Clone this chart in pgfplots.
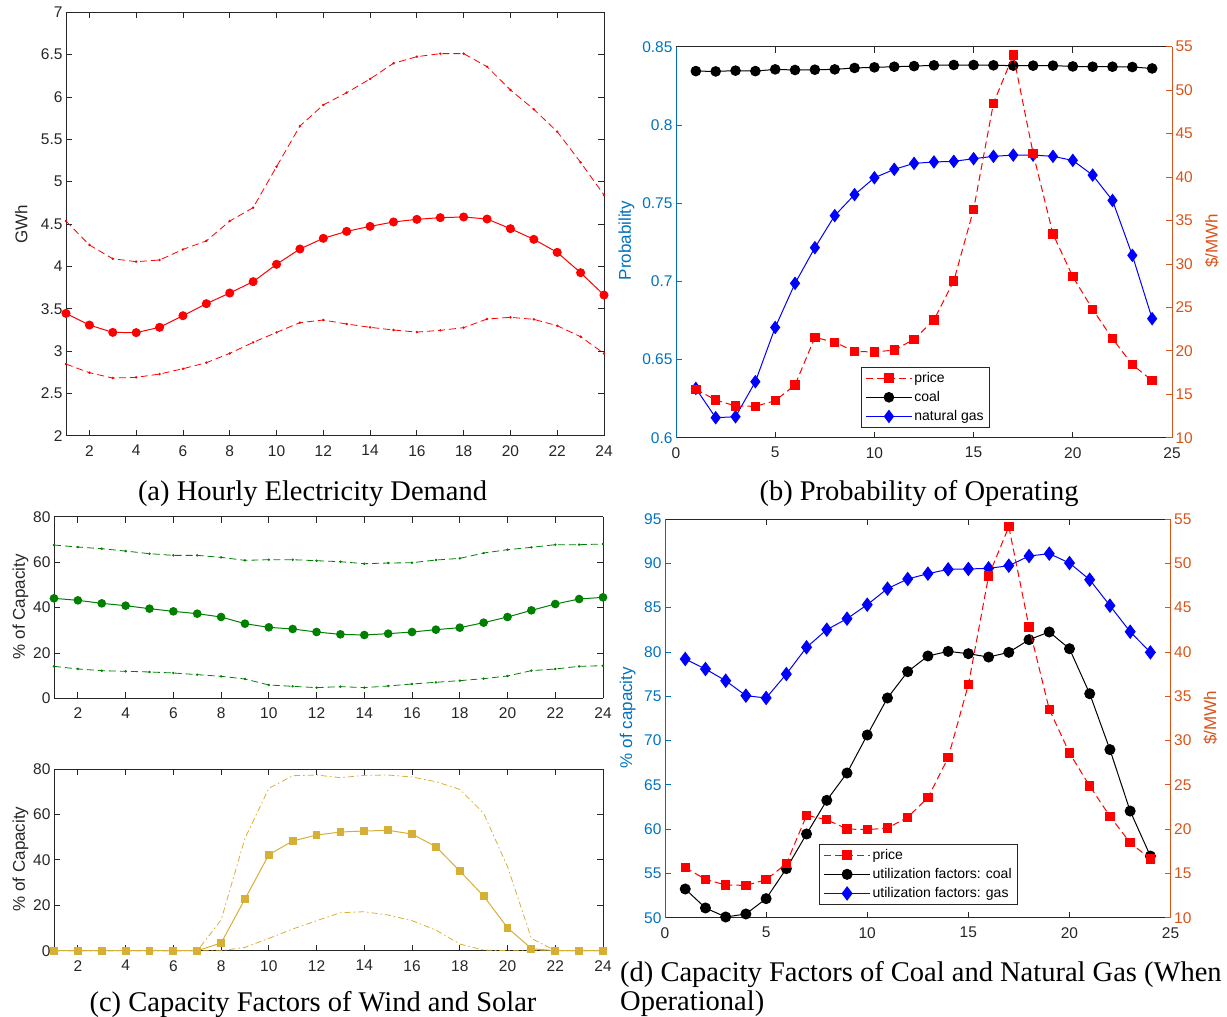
\documentclass[border=0pt]{standalone}
\usepackage{pgfplots}
\pgfplotsset{compat=1.18}
\usepackage{pgfplotstable}
\usepackage{fontspec}
\setmainfont{Liberation Sans}
\newfontfamily\capfont{Liberation Serif}
\definecolor{axgray}{rgb}{0.15,0.15,0.15}
\definecolor{mblue}{rgb}{0,0.447,0.741}
\definecolor{morange}{rgb}{0.85,0.325,0.098}
\definecolor{wgreen}{rgb}{0,0.5,0}
\definecolor{sgold}{RGB}{214,175,55}

\pgfplotstableread{
x mean up lo
1 3.445 4.535 2.846
2 3.307 4.252 2.744
3 3.220 4.090 2.681
4 3.217 4.055 2.689
5 3.280 4.075 2.728
6 3.417 4.200 2.791
7 3.559 4.300 2.862
8 3.685 4.535 2.972
9 3.819 4.693 3.102
10 4.024 5.177 3.220
11 4.205 5.657 3.335
12 4.331 5.906 3.366
13 4.413 6.051 3.319
14 4.472 6.213 3.280
15 4.524 6.398 3.248
16 4.555 6.476 3.224
17 4.575 6.512 3.244
18 4.583 6.512 3.276
19 4.559 6.358 3.378
20 4.445 6.083 3.398
21 4.319 5.854 3.374
22 4.165 5.591 3.299
23 3.925 5.228 3.169
24 3.661 4.843 2.972
}\demand

\pgfplotstableread{
x coal gas price
1 0.8344 0.6315 15.57
2 0.8342 0.6128 14.34
3 0.8347 0.6134 13.65
4 0.8344 0.6358 13.61
5 0.8355 0.6705 14.26
6 0.8351 0.6987 16.07
7 0.8353 0.7215 21.55
8 0.8355 0.7420 20.98
9 0.8364 0.7554 19.94
10 0.8368 0.7662 19.86
11 0.8372 0.7716 20.09
12 0.8376 0.7754 21.32
13 0.8381 0.7763 23.55
14 0.8383 0.7767 28.03
15 0.8383 0.7784 36.28
16 0.8381 0.7799 48.48
17 0.8379 0.7807 54.04
18 0.8379 0.7807 42.73
19 0.8379 0.7799 33.44
20 0.8374 0.7773 28.53
21 0.8372 0.7679 24.77
22 0.8372 0.7517 21.40
23 0.8370 0.7166 18.41
24 0.8361 0.6761 16.57
}\prob

\pgfplotstableread{
x mean up lo
1 44.04 67.52 14.09
2 43.16 66.64 12.92
3 41.83 65.90 12.18
4 40.81 64.88 11.89
5 39.49 63.71 11.60
6 38.31 62.97 11.16
7 37.28 62.97 10.42
8 35.82 62.09 9.69
9 32.88 60.77 8.51
10 31.27 61.06 5.87
11 30.53 61.06 5.28
12 29.21 60.62 4.70
13 28.18 60.18 5.14
14 27.89 59.30 4.70
15 28.48 59.60 5.43
16 29.21 59.74 6.31
17 30.24 60.92 7.05
18 31.12 61.65 7.78
19 33.32 64.00 8.66
20 35.82 65.47 9.83
21 38.75 66.50 12.18
22 41.54 67.67 12.92
23 43.74 67.67 14.09
24 44.48 67.96 14.38
}\wind

\pgfplotstableread{
x mean up lo
1 0 0 0
2 0 0 0
3 0 0 0
4 0 0 0
5 0 0 0
6 0 0 0
7 0 0 0
8 3.38 13.50 0
9 22.75 49.47 1.47
10 42.28 71.49 5.43
11 48.30 77.06 9.54
12 50.94 77.36 13.21
13 52.26 76.18 16.73
14 52.70 77.21 17.17
15 52.99 77.36 15.71
16 51.38 76.48 13.21
17 45.80 74.42 9.10
18 35.08 71.05 2.94
19 24.07 60.48 0.30
20 10.13 37.00 0
21 0.88 5.43 0
22 0 0 0
23 0 0 0
24 0 0 0
}\solar

\pgfplotstableread{
x coal gas price
1 53.24 79.20 15.65
2 51.10 78.07 14.33
3 50.08 76.75 13.69
4 50.42 75.06 13.65
5 52.15 74.80 14.29
6 55.54 77.50 16.10
7 59.45 80.52 21.55
8 63.25 82.51 21.06
9 66.33 83.75 20.01
10 70.62 85.33 19.94
11 74.80 87.14 20.12
12 77.77 88.23 21.33
13 79.54 88.83 23.55
14 80.06 89.32 28.06
15 79.80 89.36 36.30
16 79.42 89.43 48.57
17 79.95 89.73 54.13
18 81.38 90.82 42.81
19 82.25 91.09 33.52
20 80.36 90.03 28.59
21 75.28 88.15 24.86
22 68.97 85.22 21.44
23 62.04 82.28 18.47
24 56.96 79.95 16.62
}\capf

\pgfplotsset{
  base/.style={
    scale only axis, clip=false,
    separate axis lines,
    axis line style={draw=axgray, line width=0.8pt},
    tick align=inside, major tick length=6pt,
    tick style={draw=axgray, line width=0.8pt},
    tick label style={font=\fontsize{15.5}{18}\selectfont, text=axgray},
    xticklabel style={yshift=-6pt},
    /pgf/number format/assume math mode=true,
    every axis plot/.append style={line width=1pt},
    legend style={draw=axgray, line width=0.8pt, font=\fontsize{14}{16}\selectfont,
      text=black, inner xsep=4pt, inner ysep=3pt, row sep=3.5pt},
    legend cell align=left,
    legend image code/.code={\draw[mark repeat=2,mark phase=2,##1] plot coordinates {(0pt,0pt)(23pt,0pt)(46pt,0pt)};},
  },
  ylab/.style n args={3}{every axis y label/.style={at={(axis description cs:#1,#2)}, anchor=center, rotate=90, font=\fontsize{17}{20}\selectfont, text=#3}},
  dsh/.style={dash pattern=on 7pt off 4pt},
  dshdot/.style={dash pattern=on 6pt off 3pt on 1.5pt off 3pt},
}

\begin{document}
\begin{tikzpicture}[x=1pt,y=1pt]
\useasboundingbox (0,0) rectangle (1227,-1017);

% (a)
\begin{axis}[base, at={(66pt,-435.7pt)}, anchor=south west, width=538pt, height=423.4pt,
  xmin=1, xmax=24, ymin=2, ymax=7,
  xtick={2,4,...,24}, ytick={2,2.5,3,3.5,4,4.5,5,5.5,6,6.5,7},
  ylabel={GWh}, ylab={-0.083}{0.5}{axgray}]
\addplot[red, dsh, line width=0.8pt, mark=*, mark size=0.8pt, mark options={solid}] table[x=x,y=up] {\demand};
\addplot[red, dsh, line width=0.8pt, mark=*, mark size=0.8pt, mark options={solid}] table[x=x,y=lo] {\demand};
\addplot[red, mark=*, mark size=4pt] table[x=x,y=mean] {\demand};
\end{axis}

% (b)
\begin{axis}[base, at={(676pt,-437.7pt)}, anchor=south west, width=496pt, height=391pt,
  xmin=0, xmax=25, ymin=0.6, ymax=0.85,
  xtick={0,5,...,25}, ytick={0.6,0.65,0.7,0.75,0.8,0.85},
  ytick pos=left,
  y axis line style={draw=mblue}, ytick style={draw=mblue}, yticklabel style={text=mblue},
  ylabel={Probability}, ylab={-0.0998}{0.504}{mblue}]
\addplot[black, mark=*, mark size=4.8pt] table[x=x,y=coal] {\prob};
\addplot[blue, mark=diamond*, mark size=6pt] table[x=x,y=gas] {\prob};
\end{axis}
\begin{axis}[base, at={(676pt,-437.7pt)}, anchor=south west, width=496pt, height=391pt,
  xmin=0, xmax=25, ymin=10, ymax=55,
  axis x line=none, axis y line*=right, xtick=\empty,
  ytick={10,15,...,55},
  y axis line style={draw=morange}, ytick style={draw=morange}, yticklabel style={text=morange},
  ylabel={\$/MWh}, ylab={1.0806}{0.504}{morange},
  legend style={at={(0.373,0.181)}, anchor=north west}]
\addplot[red, dsh, mark=square*, mark size=4.2pt, mark options={solid}] table[x=x,y=price] {\prob};
\addlegendimage{black, mark=*, mark size=4.8pt, line width=1pt}
\addlegendimage{blue, mark=diamond*, mark size=6pt, line width=1pt}
\legend{price, coal, natural gas}
\end{axis}

% (c) wind
\begin{axis}[base, at={(54pt,-698.3pt)}, anchor=south west, width=549pt, height=181.6pt,
  xmin=1, xmax=24, ymin=0, ymax=80,
  xtick={2,4,...,24}, ytick={0,20,...,80},
  ylabel={\% of Capacity}, ylab={-0.0612}{0.504}{axgray}]
\addplot[wgreen, dsh, line width=0.8pt, mark=*, mark size=0.8pt, mark options={solid}] table[x=x,y=up] {\wind};
\addplot[wgreen, dsh, line width=0.8pt, mark=*, mark size=0.8pt, mark options={solid}] table[x=x,y=lo] {\wind};
\addplot[wgreen, mark=*, mark size=3.8pt] table[x=x,y=mean] {\wind};
\end{axis}

% (c) solar
\begin{axis}[base, at={(54pt,-950.7pt)}, anchor=south west, width=549pt, height=181.7pt,
  xmin=1, xmax=24, ymin=0, ymax=80,
  xtick={2,4,...,24}, ytick={0,20,...,80},
  ylabel={\% of Capacity}, ylab={-0.0612}{0.505}{axgray}]
\addplot[sgold, dshdot, line width=0.8pt] table[x=x,y=up] {\solar};
\addplot[sgold, dshdot, line width=0.8pt] table[x=x,y=lo] {\solar};
\addplot[sgold, mark=square*, mark size=3.4pt] table[x=x,y=mean] {\solar};
\end{axis}

% (d)
\begin{axis}[base, at={(665pt,-917.7pt)}, anchor=south west, width=505.6pt, height=398.7pt,
  xmin=0, xmax=25, ymin=50, ymax=95,
  xtick={0,5,...,25}, ytick={50,55,...,95},
  ytick pos=left,
  y axis line style={draw=mblue}, ytick style={draw=mblue}, yticklabel style={text=mblue},
  ylabel={\% of capacity}, ylab={-0.0738}{0.502}{mblue}]
\addplot[blue, mark=diamond*, mark size=6.5pt] table[x=x,y=gas] {\capf};
\addplot[black, mark=*, mark size=5pt] table[x=x,y=coal] {\capf};
\end{axis}
\begin{axis}[base, at={(665pt,-917.7pt)}, anchor=south west, width=505.6pt, height=398.7pt,
  xmin=0, xmax=25, ymin=10, ymax=55,
  axis x line=none, axis y line*=right, xtick=\empty,
  ytick={10,15,...,55},
  y axis line style={draw=morange}, ytick style={draw=morange}, yticklabel style={text=morange},
  ylabel={\$/MWh}, ylab={1.0787}{0.502}{morange},
  legend style={at={(0.305,0.185)}, anchor=north west}]
\addplot[red, dsh, mark=square*, mark size=4.2pt, mark options={solid}] table[x=x,y=price] {\capf};
\addlegendimage{black, mark=*, mark size=5pt, line width=1pt}
\addlegendimage{blue, mark=diamond*, mark size=6.5pt, line width=1pt}
\legend{price, utilization factors: coal, utilization factors: gas}
\end{axis}

% captions
\begin{scope}[every node/.style={font=\capfont\fontsize{28.5}{34}\selectfont, text=black, inner sep=0pt}]
\node[anchor=base] at (312.5,-500) {(a) Hourly Electricity Demand};
\node[anchor=base] at (919,-500) {(b) Probability of Operating};
\node[anchor=base] at (313,-1011) {(c) Capacity Factors of Wind and Solar};
\node[anchor=base west] at (620,-981) {(d) Capacity Factors of Coal and Natural Gas (When};
\node[anchor=base west] at (620,-1010) {Operational)};
\end{scope}
\end{tikzpicture}
\end{document}
